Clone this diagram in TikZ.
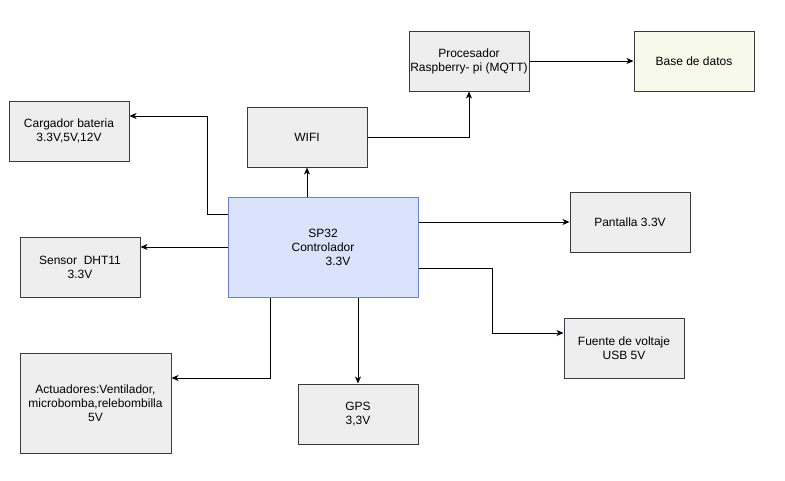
\documentclass[tikz,border=0pt]{standalone}
\usepackage{fontspec}
\setmainfont{Liberation Sans}
\usetikzlibrary{arrows.meta}
\definecolor{boxfill}{HTML}{EEEEEE}
\definecolor{boxdraw}{HTML}{36393D}
\definecolor{bluefill}{HTML}{DAE2FC}
\definecolor{bluedraw}{HTML}{6C82C8}
\definecolor{dbfill}{HTML}{F7F9EB}
\tikzset{
  blk/.style={rectangle, draw=boxdraw, fill=boxfill, line width=1pt, minimum width=120pt, minimum height=60pt, align=center, inner sep=0pt, font=\fontsize{12}{14}\selectfont},
  arr/.style={-{Stealth[length=7pt,width=6pt,inset=2pt]}, line width=1pt, black},
}
\begin{document}
\begin{tikzpicture}[x=1pt,y=-1pt]
\useasboundingbox (0,0) rectangle (785,480);
\node[blk] (carg) at (69,131) {Cargador bateria\\3.3V,5V,12V};
\node[blk] (sens) at (80,267) {Sensor\ \ DHT11\\3.3V};
\node[blk, fill=bluefill, draw=bluedraw, minimum width=190pt, minimum height=100pt] (sp) at (323,247) {SP32\\Controlador\\\hspace*{30pt}3.3V};
\node[blk] (wifi) at (307,137) {WIFI};
\node[blk] (proc) at (469,61) {Procesador\\Raspberry- pi (MQTT)};
\node[blk, fill=dbfill] (base) at (694,61) {Base de datos};
\node[blk] (pant) at (630,222) {Pantalla 3.3V};
\node[blk] (fuen) at (624,348) {Fuente de voltaje\\USB 5V};
\node[blk, minimum width=151pt, minimum height=100pt] (act) at (95.5,403) {Actuadores:Ventilador,\\microbomba,relebombilla\\5V};
\node[blk] (gps) at (358,414) {GPS\\3,3V};

\draw[arr] ([yshift=33pt]sp.west) -- ++(-20,0) |- ([yshift=15pt]carg.east);
\draw[arr] (sp.west) -- (sp.west -| sens.east);
\draw[arr] (wifi.south |- sp.north) -- (wifi.south);
\draw[arr] (wifi.east) -| (proc.south);
\draw[arr] (proc.east) -- (base.west);
\draw[arr] (pant.west -| sp.east) -- (pant.west);
\draw[arr] ([yshift=-21pt]sp.east) -- ++(74,0) |- ([yshift=15pt]fuen.west);
\draw[arr] ([xshift=-53pt]sp.south) |- ([yshift=25pt]act.east);
\draw[arr] (gps.north |- sp.south) -- (gps.north);
\end{tikzpicture}
\end{document}
